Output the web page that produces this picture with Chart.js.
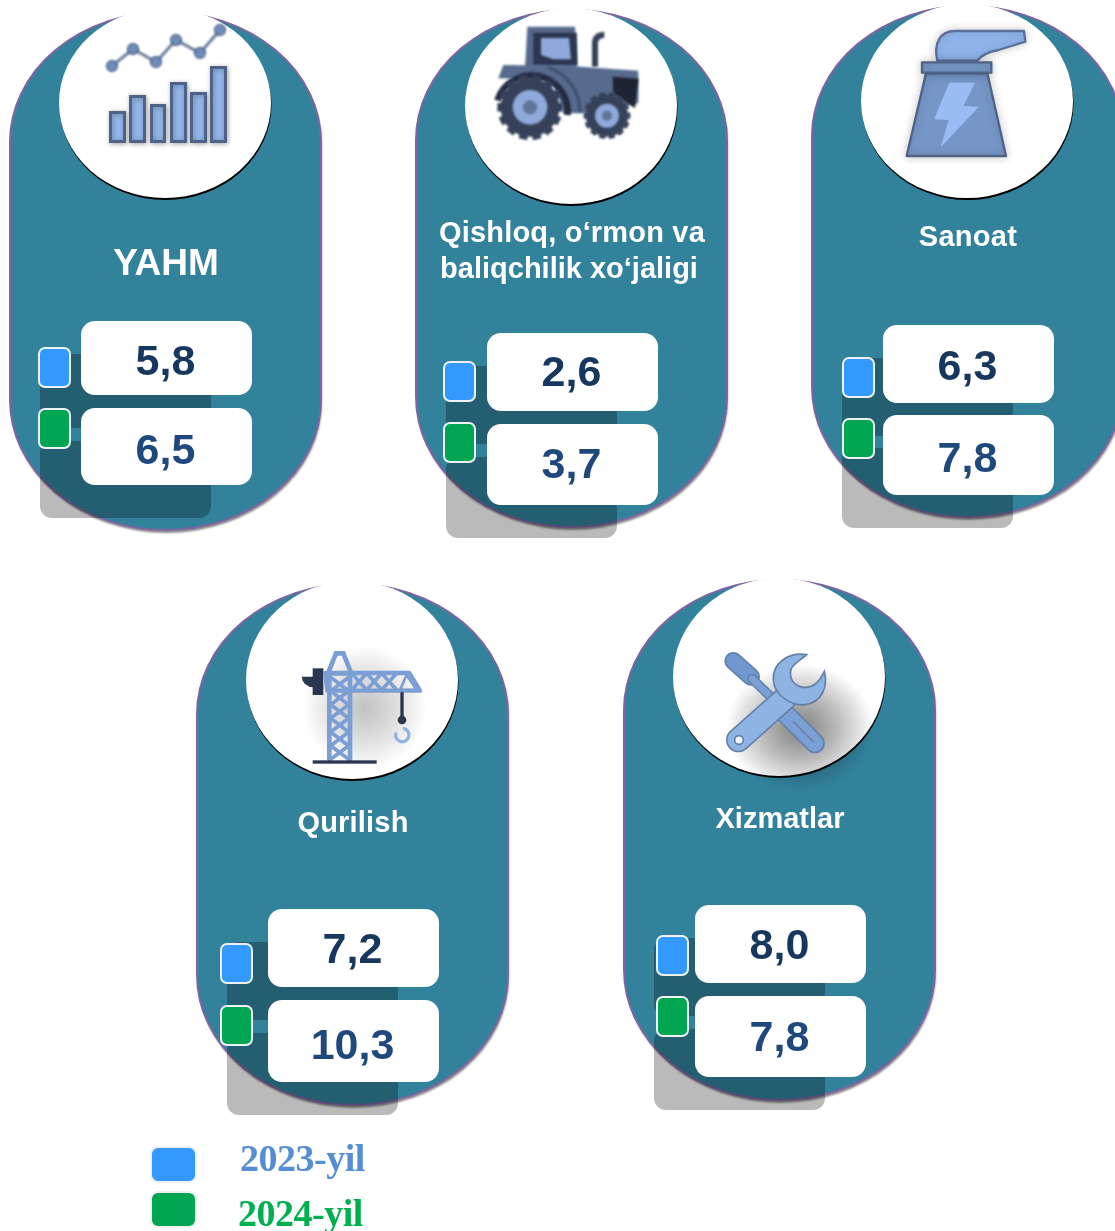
<!DOCTYPE html>
<html>
<head>
<meta charset="utf-8">
<title>YAHM</title>
<script src="https://cdn.jsdelivr.net/npm/chart.js@4/dist/chart.umd.min.js"></script>
<style>
  html, body { margin: 0; padding: 0; background: #fff; }
  canvas { display: block; }
</style>
</head>
<body>
<canvas id="chart" width="1115" height="1231"></canvas>
<script>
// Values
const categories = ["YAHM", "Qishloq, o‘rmon va|baliqchilik xo‘jaligi", "Sanoat", "Qurilish", "Xizmatlar"];
const values2023 = [5.8, 2.6, 6.3, 7.2, 8.0];
const values2024 = [6.5, 3.7, 7.8, 10.3, 7.8];
const seriesLabels = ["2023-yil", "2024-yil"];

// Layout of each rounded panel, all in page pixels
const panels = [
  { left: 10, top: 12, bottom: 530, cx: 165, cy: 103, ry: 95, icon: drawBars,
    titleY: [265], titleSize: 37, spacing: [0],
    card1: [321, 395], card2: [408, 485], cardX: 81, sw1: [38, 347], sw2: [38, 408], textDy: [5, 6] },
  { left: 416, top: 10, bottom: 527, cx: 571, cy: 106, ry: 98, icon: drawTractor,
    titleY: [234, 270], titleSize: 29, spacing: [0.18, 0],
    card1: [333, 411], card2: [424, 505], cardX: 487, sw1: [443, 361], sw2: [443, 422], textDy: [2, 2] },
  { left: 812, top: 6, bottom: 517, cx: 967, cy: 101, ry: 97, icon: drawPlant,
    titleY: [238], titleSize: 29, spacing: [0.3],
    card1: [325, 403], card2: [415, 495], cardX: 883, sw1: [842, 357], sw2: [842, 418], textDy: [4, 5] },
  { left: 197, top: 584, bottom: 1105, cx: 352, cy: 680, ry: 99, icon: drawCrane,
    titleY: [824], titleSize: 29, spacing: [0.2],
    card1: [909, 987], card2: [1000, 1082], cardX: 268, sw1: [220, 943], sw2: [220, 1005], textDy: [3, 6] },
  { left: 624, top: 580, bottom: 1100, cx: 779, cy: 677, ry: 99, icon: drawTools,
    titleY: [820], titleSize: 29, spacing: [0],
    card1: [905, 983], card2: [996, 1077], cardX: 695, sw1: [656, 935], sw2: [656, 996], textDy: [3, 3] }
];

const PANEL_W = 311;
const CARD_W = 171;
const seriesColors = ["#3399ff", "#00a651"];
const valueColors = ["#17375e", "#1f497d"];

function formatValue(v) {
  return v.toFixed(1).replace(".", ",");
}

function roundRect(ctx, x, y, w, h, r) {
  ctx.beginPath();
  ctx.roundRect(x, y, w, h, r);
}

function panelPath(ctx, p) {
  const rx = PANEL_W / 2, ry = 130;
  ctx.beginPath();
  ctx.ellipse(p.left + rx, p.top + ry, rx, ry, 0, Math.PI, Math.PI * 2);
  ctx.ellipse(p.left + rx, p.bottom - ry, rx, ry, 0, 0, Math.PI);
  ctx.closePath();
}

function drawPanel(ctx, p) {
  ctx.save();
  ctx.shadowColor = "rgba(0,0,0,0.45)";
  ctx.shadowOffsetX = 1;
  ctx.shadowOffsetY = 3;
  ctx.shadowBlur = 2;
  panelPath(ctx, p);
  ctx.fillStyle = "#32829c";
  ctx.fill();
  ctx.restore();
  panelPath(ctx, p);
  ctx.strokeStyle = "#8064a2";
  ctx.lineWidth = 2;
  ctx.stroke();

  // black crescent under the white disc
  ctx.beginPath();
  ctx.ellipse(p.cx + 0.5, p.cy + 2, 106, p.ry, 0, 0, Math.PI * 2);
  ctx.fillStyle = "#000";
  ctx.fill();
  ctx.beginPath();
  ctx.ellipse(p.cx, p.cy, 106, p.ry, 0, 0, Math.PI * 2);
  ctx.fillStyle = "#fff";
  ctx.fill();
}

function softShadow(ctx, x, y, rx, ry, alpha) {
  ctx.save();
  ctx.translate(x, y);
  ctx.scale(rx, ry);
  const g = ctx.createRadialGradient(0, 0, 0, 0, 0, 1);
  g.addColorStop(0, `rgba(0,0,0,${alpha})`);
  g.addColorStop(0.5, `rgba(0,0,0,${alpha * 0.55})`);
  g.addColorStop(1, "rgba(0,0,0,0)");
  ctx.fillStyle = g;
  ctx.beginPath();
  ctx.arc(0, 0, 1, 0, Math.PI * 2);
  ctx.fill();
  ctx.restore();
}

function poly(ctx, pts) {
  ctx.beginPath();
  pts.forEach((q, i) => (i ? ctx.lineTo(q[0], q[1]) : ctx.moveTo(q[0], q[1])));
  ctx.closePath();
}

function line(ctx, x1, y1, x2, y2, w, color) {
  ctx.beginPath();
  ctx.moveTo(x1, y1);
  ctx.lineTo(x2, y2);
  ctx.lineWidth = w;
  ctx.strokeStyle = color;
  ctx.lineCap = "round";
  ctx.stroke();
}

function drawBars(ctx) {
  ctx.save();
  ctx.filter = "blur(0.3px)";
  ctx.shadowColor = "rgba(0,0,0,0.3)";
  ctx.shadowBlur = 5;
  ctx.shadowOffsetX = 1;
  ctx.shadowOffsetY = 1;
  [[110.5, 112.5, 124.5], [130.5, 96.5, 144.5], [151.5, 105.5, 164.5], [171.5, 83.5, 185.5], [191.5, 93.5, 205.5], [211.5, 67.5, 225.5]].forEach((b) => {
    ctx.fillStyle = "#92b6ea";
    ctx.strokeStyle = "#4f6288";
    ctx.lineWidth = 3;
    ctx.beginPath();
    ctx.rect(b[0], b[1], b[2] - b[0], 141.5 - b[1]);
    ctx.fill();
    ctx.stroke();
  });
  ctx.shadowColor = "rgba(0,0,0,0)";
  ctx.filter = "blur(0.8px)";
  const pts = [[112, 66], [133, 49], [156, 62], [176, 40], [200, 53], [220, 30]];
  ctx.beginPath();
  pts.forEach((q, i) => (i ? ctx.lineTo(q[0], q[1]) : ctx.moveTo(q[0], q[1])));
  ctx.strokeStyle = "#6c7f9f";
  ctx.lineWidth = 3;
  ctx.stroke();
  pts.forEach((q) => {
    ctx.beginPath();
    ctx.arc(q[0], q[1], 5, 0, Math.PI * 2);
    ctx.fillStyle = "#6c8ebf";
    ctx.fill();
    ctx.strokeStyle = "#566a8e";
    ctx.lineWidth = 2;
    ctx.stroke();
  });
  ctx.restore();
}

function wheel(ctx, x, y, r, hub, inner) {
  for (let a = 0; a < 14; a++) {
    const t = (a / 14) * Math.PI * 2;
    ctx.lineCap = "butt";
    ctx.beginPath();
    ctx.moveTo(x + Math.cos(t) * r * 0.8, y + Math.sin(t) * r * 0.8);
    ctx.lineTo(x + Math.cos(t) * r, y + Math.sin(t) * r);
    ctx.lineWidth = r * 0.26;
    ctx.strokeStyle = "#364159";
    ctx.stroke();
  }
  ctx.beginPath(); ctx.arc(x, y, r * 0.9, 0, Math.PI * 2); ctx.fillStyle = "#364159"; ctx.fill();
  ctx.beginPath(); ctx.arc(x, y, hub, 0, Math.PI * 2); ctx.fillStyle = "#8eaadb"; ctx.fill();
  ctx.beginPath(); ctx.arc(x, y, inner, 0, Math.PI * 2); ctx.fillStyle = "#5f7596"; ctx.fill();
}

function drawTractor(ctx) {
  ctx.save();
  ctx.filter = "blur(0.9px)";
  ctx.translate(470, 0);
  ctx.scale(1 / 3, 1 / 3);
  // exhaust
  ctx.beginPath();
  ctx.moveTo(375, 200);
  ctx.lineTo(375, 130);
  ctx.quadraticCurveTo(375, 105, 403, 104);
  ctx.lineWidth = 18;
  ctx.strokeStyle = "#34405a";
  ctx.stroke();
  // cab
  poly(ctx, [[172, 80], [315, 80], [322, 205], [165, 205]]);
  ctx.fillStyle = "#56698c";
  ctx.fill();
  poly(ctx, [[190, 98], [320, 98], [322, 195], [190, 195]]);
  ctx.fillStyle = "#2b3650";
  ctx.fill();
  poly(ctx, [[213, 114], [297, 114], [303, 178], [250, 178], [213, 165]]);
  ctx.fillStyle = "#8eaadb";
  ctx.fill();
  // body
  poly(ctx, [[100, 195], [300, 198], [505, 212], [505, 310], [350, 340], [280, 340], [250, 240], [85, 235]]);
  ctx.fillStyle = "#566b8e";
  ctx.fill();
  // grille
  poly(ctx, [[428, 230], [505, 236], [495, 325], [430, 280]]);
  ctx.fillStyle = "#1e2433";
  ctx.fill();
  // fender
  ctx.beginPath();
  ctx.arc(185, 335, 108, Math.PI * 1.1, Math.PI * 2.03);
  ctx.lineWidth = 20;
  ctx.strokeStyle = "#232c42";
  ctx.stroke();
  ctx.beginPath();
  ctx.arc(190, 335, 140, Math.PI * 1.6, Math.PI * 2);
  ctx.lineWidth = 8;
  ctx.strokeStyle = "#3d4c6c";
  ctx.stroke();
  wheel(ctx, 180, 322, 98, 52, 21);
  wheel(ctx, 411, 347, 70, 36, 15);
  ctx.restore();
}

function drawPlant(ctx) {
  ctx.save();
  ctx.filter = "blur(0.6px)";
  ctx.translate(860, 0);
  ctx.scale(1 / 3, 1 / 3);
  ctx.shadowColor = "rgba(0,0,0,0.2)";
  ctx.shadowBlur = 8;
  ctx.lineJoin = "round";
  // smoke
  ctx.beginPath();
  ctx.moveTo(232, 182);
  ctx.bezierCurveTo(220, 130, 240, 93, 285, 93);
  ctx.lineTo(492, 93);
  ctx.lineTo(496, 125);
  ctx.lineTo(415, 150);
  ctx.quadraticCurveTo(370, 158, 352, 182);
  ctx.closePath();
  ctx.fillStyle = "#8eb4ea";
  ctx.strokeStyle = "#5a6f99";
  ctx.lineWidth = 7;
  ctx.fill();
  ctx.stroke();
  // stack body
  poly(ctx, [[198, 220], [382, 220], [438, 468], [140, 468]]);
  ctx.fillStyle = "#7596c6";
  ctx.strokeStyle = "#4f6288";
  ctx.fill();
  ctx.stroke();
  // cap
  ctx.beginPath();
  ctx.rect(186, 187, 208, 31);
  ctx.fillStyle = "#7596c6";
  ctx.fill();
  ctx.stroke();
  ctx.shadowColor = "rgba(0,0,0,0)";
  // bolt
  poly(ctx, [[268, 248], [345, 248], [310, 318], [357, 320], [242, 442], [266, 360], [222, 358]]);
  ctx.fillStyle = "#9abcf5";
  ctx.fill();
  ctx.restore();
}

function lattice(ctx, x1, y1, x2, y2, steps, vertical) {
  ctx.strokeStyle = "#7b9fd4";
  ctx.lineWidth = 11;
  for (let i = 0; i < steps; i++) {
    const a = i / steps, b = (i + 1) / steps;
    ctx.beginPath();
    if (vertical) {
      const ya = y1 + (y2 - y1) * a, yb = y1 + (y2 - y1) * b;
      ctx.moveTo(x1, ya); ctx.lineTo(x2, yb);
      ctx.moveTo(x2, ya); ctx.lineTo(x1, yb);
    } else {
      const xa = x1 + (x2 - x1) * a, xb = x1 + (x2 - x1) * b;
      ctx.moveTo(xa, y1); ctx.lineTo(xb, y2);
      ctx.moveTo(xa, y2); ctx.lineTo(xb, y1);
    }
    ctx.stroke();
  }
}

function drawCrane(ctx) {
  softShadow(ctx, 365, 708, 62, 62, 0.24);
  ctx.save();
  ctx.filter = "blur(0.7px)";
  ctx.translate(240, 580);
  ctx.scale(1 / 3, 1 / 3);
  // counterweight
  ctx.fillStyle = "#2a3650";
  ctx.beginPath();
  ctx.moveTo(222, 290);
  ctx.lineTo(185, 290);
  ctx.quadraticCurveTo(188, 320, 222, 322);
  ctx.closePath();
  ctx.fill();
  ctx.fillRect(218, 265, 32, 80);
  // mast
  line(ctx, 268, 290, 268, 538, 14, "#7b9fd4");
  line(ctx, 330, 290, 330, 538, 14, "#7b9fd4");
  lattice(ctx, 272, 292, 326, 538, 6, true);
  // top triangle
  ctx.lineCap = "butt";
  poly(ctx, [[264, 280], [288, 220], [310, 220], [334, 280]]);
  ctx.lineWidth = 14;
  ctx.strokeStyle = "#7b9fd4";
  ctx.stroke();
  // jib
  ctx.lineJoin = "round";
  poly(ctx, [[256, 279], [508, 279], [540, 332], [262, 332]]);
  ctx.lineWidth = 13;
  ctx.stroke();
  lattice(ctx, 335, 280, 470, 330, 3, false);
  poly(ctx, [[500, 285], [530, 330], [480, 330]]);
  ctx.lineWidth = 8;
  ctx.strokeStyle = "#7b9fd4";
  ctx.stroke();
  // cable and hook
  line(ctx, 486, 340, 486, 412, 10, "#2a3650");
  ctx.beginPath();
  ctx.arc(486, 420, 13, 0, Math.PI * 2);
  ctx.fillStyle = "#2a3650";
  ctx.fill();
  ctx.beginPath();
  ctx.arc(487, 465, 20, -Math.PI * 0.4, Math.PI * 1.05);
  ctx.lineWidth = 10;
  ctx.strokeStyle = "#8eb4e3";
  ctx.stroke();
  // base
  ctx.fillStyle = "#2a3650";
  ctx.fillRect(218, 541, 192, 10);
  ctx.restore();
}

function drawTools(ctx) {
  softShadow(ctx, 800, 728, 74, 64, 0.5);
  ctx.save();
  ctx.filter = "blur(0.5px)";
  ctx.translate(665, 580);
  ctx.scale(1 / 3, 1 / 3);
  const edge = "#6480a8", fill = "#8eb4e3";
  // screwdriver
  line(ctx, 205, 243, 258, 290, 54, edge);
  line(ctx, 205, 243, 258, 290, 44, "#6f97d0");
  line(ctx, 262, 297, 340, 372, 30, edge);
  line(ctx, 262, 297, 340, 372, 21, "#7ba0d6");
  line(ctx, 355, 395, 450, 490, 60, edge);
  line(ctx, 355, 395, 450, 490, 50, "#7ba0d6");
  line(ctx, 385, 425, 445, 485, 4, edge);
  // wrench handle
  line(ctx, 360, 355, 220, 480, 74, edge);
  line(ctx, 360, 355, 220, 480, 64, fill);
  // wrench head
  ctx.beginPath();
  ctx.moveTo(425, 224);
  ctx.bezierCurveTo(370, 215, 322, 250, 325, 300);
  ctx.bezierCurveTo(328, 350, 385, 378, 420, 374);
  ctx.bezierCurveTo(470, 368, 490, 320, 478, 274);
  ctx.bezierCurveTo(465, 300, 450, 325, 415, 322);
  ctx.bezierCurveTo(385, 318, 372, 295, 378, 268);
  ctx.bezierCurveTo(385, 250, 410, 238, 425, 224);
  ctx.closePath();
  ctx.fillStyle = fill;
  ctx.fill();
  ctx.strokeStyle = edge;
  ctx.lineWidth = 5;
  ctx.stroke();
  // handle hole
  ctx.beginPath();
  ctx.arc(222, 480, 13, 0, Math.PI * 2);
  ctx.fillStyle = "#f2f4f8";
  ctx.fill();
  ctx.strokeStyle = edge;
  ctx.stroke();
  ctx.restore();
}

function drawTitle(ctx, p, i) {
  ctx.save();
  ctx.font = `bold ${p.titleSize}px "Liberation Sans", Arial, sans-serif`;
  ctx.fillStyle = "#fff";
  ctx.textAlign = "center";
  ctx.textBaseline = "middle";
  categories[i].split("|").forEach((t, k) => {
    ctx.letterSpacing = `${p.spacing[k]}px`;
    ctx.fillText(t, k === 1 ? p.cx - 2 : p.cx + 1, p.titleY[k]);
  });
  ctx.restore();
}

function drawSwatch(ctx, x, y, color) {
  roundRect(ctx, x + 1, y + 1, 31, 39, 6);
  ctx.fillStyle = color;
  ctx.fill();
  ctx.strokeStyle = "#eef2f4";
  ctx.lineWidth = 2;
  ctx.stroke();
}

// Panels and icons go under the points, the value cards on top of them
const infographicPlugin = {
  id: "infographic",
  beforeDatasetsDraw(chart) {
    const ctx = chart.ctx;
    panels.forEach((p, i) => {
      drawPanel(ctx, p);
      p.icon(ctx);
      drawTitle(ctx, p, i);
    });
  },
  afterDatasetsDraw(chart) {
    const ctx = chart.ctx;
    const first = chart.getDatasetMeta(0).data;
    const second = chart.getDatasetMeta(1).data;
    panels.forEach((p, i) => {
      [p.card1, p.card2].forEach((c) => {
        roundRect(ctx, p.cardX - 41, c[0] + 33, CARD_W, c[1] - c[0], 12);
        ctx.fillStyle = "rgba(0,0,0,0.27)";
        ctx.fill();
      });
      drawSwatch(ctx, p.sw1[0], p.sw1[1], seriesColors[0]);
      drawSwatch(ctx, p.sw2[0], p.sw2[1], seriesColors[1]);
      [first[i], second[i]].forEach((el, s) => {
        const c = s ? p.card2 : p.card1;
        roundRect(ctx, p.cardX, c[0], CARD_W, c[1] - c[0], 14);
        ctx.fillStyle = "#fff";
        ctx.fill();
        ctx.font = 'bold 43px "Liberation Sans", Arial, sans-serif';
        ctx.fillStyle = valueColors[s];
        ctx.textAlign = "center";
        ctx.textBaseline = "middle";
        const v = s ? values2024[i] : values2023[i];
        ctx.fillText(formatValue(v), el.x - 1, el.y + p.textDy[s]);
      });
    });

    // legend
    ctx.save();
    [[1147, 1161, "#558ed5", 240], [1192, 1216, "#00b050", 238]].forEach((l, s) => {
      roundRect(ctx, 151, l[0], 45, 35, 7);
      ctx.fillStyle = seriesColors[s];
      ctx.fill();
      ctx.strokeStyle = "#f0f0f0";
      ctx.lineWidth = 2;
      ctx.stroke();
      ctx.font = 'bold 38px "Liberation Serif", "Times New Roman", serif';
      ctx.letterSpacing = "-0.5px";
      ctx.fillStyle = l[2];
      ctx.textAlign = "left";
      ctx.textBaseline = "middle";
      ctx.fillText(seriesLabels[s], l[3], l[1]);
    });
    ctx.restore();
  }
};

function pointsFor(values, cardKey) {
  return values.map((v, i) => {
    const p = panels[i];
    const c = p[cardKey];
    return { x: p.cardX + CARD_W / 2, y: (c[0] + c[1]) / 2, value: v };
  });
}

new Chart(document.getElementById("chart"), {
  type: "scatter",
  data: {
    datasets: [
      { label: seriesLabels[0], data: pointsFor(values2023, "card1"), backgroundColor: seriesColors[0], pointRadius: 0 },
      { label: seriesLabels[1], data: pointsFor(values2024, "card2"), backgroundColor: seriesColors[1], pointRadius: 0 }
    ]
  },
  options: {
    responsive: false,
    animation: false,
    layout: { padding: 0 },
    scales: {
      x: { type: "linear", min: 0, max: 1115, display: false },
      y: { type: "linear", min: 0, max: 1231, reverse: true, display: false }
    },
    plugins: {
      legend: { display: false },
      tooltip: { enabled: false }
    }
  },
  plugins: [infographicPlugin]
});
</script>
</body>
</html>
